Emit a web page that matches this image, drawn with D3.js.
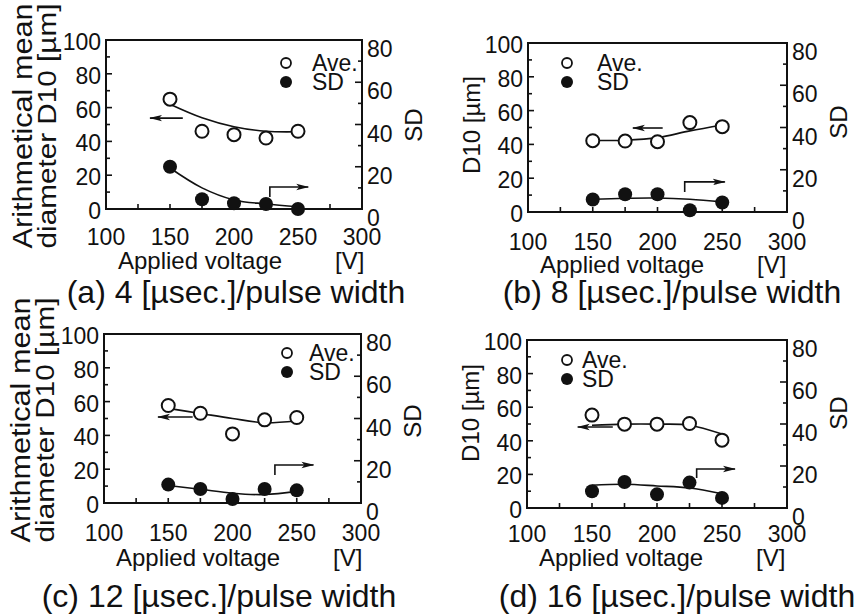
<!DOCTYPE html>
<html>
<head>
<meta charset="utf-8">
<script src="https://cdn.jsdelivr.net/npm/d3@7"></script>
<style>
  body { margin: 0; background: #fff; }
  svg text { font-family: "Liberation Sans", Arial, sans-serif; fill: #111; }
</style>
</head>
<body>
<div class="chart"></div>
<script>
// --- DATA --- //
const voltage = [150, 175, 200, 225, 250];
const xTicks = [100, 150, 200, 250, 300];
const leftTicks = [0, 20, 40, 60, 80, 100];
const rightTicks = [0, 20, 40, 60, 80];

// (a) 4 usec
const aveA = [65, 46, 44, 42, 46];
const sdA = [20, 4.6, 2.7, 2.4, 0];
const aveFitA = [62, 54, 48.7, 46, 45.7];
const sdFitA = [19.4, 10, 4.3, 2.4, 1.1];
// (b) 8 usec
const aveB = [42.2, 42, 41.6, 52.9, 50.5];
const sdB = [5.9, 8.4, 8.4, 0.8, 4.5];
const aveFitB = [42.3, 42.5, 44, 48, 51.5];
const sdFitB = [6, 6.5, 6.6, 6, 4.8];
// (c) 12 usec
const aveC = [57.7, 53.1, 40.9, 49.2, 50.6];
const sdC = [8.7, 6.6, 1.9, 6.6, 6.0];
const aveFitC = [56, 53, 50, 47.5, 48.5];
const sdFitC = [8.3, 6.5, 4.6, 4.0, 5.5];
// (d) 16 usec
const aveD = [55.3, 49.9, 49.9, 50.3, 40.4];
const sdD = [8.0, 12.4, 6.5, 12.1, 4.8];
const aveFitD = [49.3, 49.9, 49.9, 49.3, 44];
const sdFitD = [10.8, 11.3, 10.5, 9.5, 6.8];

const captions = ["(a) 4 [\u00b5sec.]/pulse width", "(b) 8 [\u00b5sec.]/pulse width",
                  "(c) 12 [\u00b5sec.]/pulse width", "(d) 16 [\u00b5sec.]/pulse width"];

// arrows in data units: [x1, x2, y] for left arrow, [x, y1, y2, x2] for bracket
const leftArrows = [[160, 134.4, 53.8], [204, 181, 49.7], [169, 142, 50.9], [166, 139, 48.2]];
const bracketArrows = [[228, 7.1, 13, 258], [221, 11.8, 17.8, 252], [233, 16.6, 22.5, 263], [230.5, 17.9, 23.2, 260]];

// --- LAYOUT --- //
const width = 859, height = 616;
const svg = d3.select('.chart').append('svg')
    .attr('width', width).attr('height', height)
    .attr('viewBox', [0, 0, width, height]);

svg.append('defs').append('marker')
    .attr('id', 'head')
    .attr('viewBox', '0 0 13 8')
    .attr('refX', 12).attr('refY', 4)
    .attr('markerWidth', 13).attr('markerHeight', 8)
    .attr('markerUnits', 'userSpaceOnUse')
    .attr('orient', 'auto')
    .append('path')
    .attr('d', 'M0,0.8 L13,4 L0,7.2 L3,4 Z')
    .attr('fill', '#111');

const panels = [
  {ave: aveA, sd: sdA, aveFit: aveFitA, sdFit: sdFitA, box: [106, 362, 40, 209], twoLine: true,
   legend: [286, 63], legDx: 26, tickDy: 36, xlabDy: 60, capX: 236, capY: 303, sdY: 125, titleY: 126},
  {ave: aveB, sd: sdB, aveFit: aveFitB, sdFit: sdFitB, box: [528, 787, 43, 212], twoLine: false,
   legend: [567, 63], legDx: 30, tickDy: 38, xlabDy: 61, capX: 672, capY: 303, sdY: 122, titleY: 125},
  {ave: aveC, sd: sdC, aveFit: aveFitC, sdFit: sdFitC, box: [104, 361, 334, 503], twoLine: true,
   legend: [287, 353], legDx: 22, tickDy: 38, xlabDy: 63, capX: 219, capY: 607, sdY: 421, titleY: 420},
  {ave: aveD, sd: sdD, aveFit: aveFitD, sdFit: sdFitD, box: [527, 787, 340, 508], twoLine: false,
   legend: [567, 360], legDx: 15, tickDy: 34, xlabDy: 58, capX: 677, capY: 607, sdY: 413, titleY: 413}
];

panels.forEach((p, i) => {
  const [x0, x1, y0, y1] = p.box;
  const x = d3.scaleLinear().domain([100, 300]).range([x0, x1]);
  const yL = d3.scaleLinear().domain([0, 100]).range([y1, y0]);
  const yR = d3.scaleLinear().domain([0, 80]).range([y1, y0]);
  const g = svg.append('g');

  // frame
  g.append('rect')
    .attr('x', x0).attr('y', y0).attr('width', x1 - x0).attr('height', y1 - y0)
    .attr('fill', 'none').attr('stroke', '#111').attr('stroke-width', 2);

  // inward ticks
  const ticks = g.append('g').attr('stroke', '#111').attr('stroke-width', 1.6);
  d3.range(125, 300, 25).forEach(v => {
    ticks.append('line').attr('x1', x(v)).attr('x2', x(v)).attr('y1', y1).attr('y2', y1 - 5);
  });
  d3.range(10, 100, 10).forEach(v => {
    ticks.append('line').attr('x1', x0).attr('x2', x0 + (v % 20 ? 4 : 6)).attr('y1', yL(v)).attr('y2', yL(v));
  });
  d3.range(10, 80, 10).forEach(v => {
    ticks.append('line').attr('x1', x1).attr('x2', x1 - (v % 20 ? 4 : 7)).attr('y1', yR(v)).attr('y2', yR(v));
  });

  // tick labels
  g.selectAll('.xt').data(xTicks).join('text')
    .attr('x', d => x(d)).attr('y', y1 + p.tickDy)
    .attr('text-anchor', 'middle').attr('font-size', 23).text(d => d);
  g.selectAll('.yl').data(leftTicks).join('text')
    .attr('x', x0 - 5).attr('y', d => yL(d) + 10)
    .attr('text-anchor', 'end').attr('font-size', 23).text(d => d);
  g.selectAll('.yr').data(rightTicks).join('text')
    .attr('x', x1 + 5).attr('y', d => yR(d) + 17)
    .attr('text-anchor', 'start').attr('font-size', 23).text(d => d);

  // axis titles
  g.append('text').attr('x', x0 + 12).attr('y', y1 + p.xlabDy)
    .attr('font-size', 24).text('Applied voltage');
  g.append('text').attr('x', x0 + 229).attr('y', y1 + p.xlabDy)
    .attr('font-size', 24).text('[V]');
  g.append('text')
    .attr('transform', `translate(${x1 + 60},${p.sdY}) rotate(-90)`)
    .attr('text-anchor', 'middle').attr('font-size', 24).text('SD');
  if (p.twoLine) {
    g.append('text')
      .attr('transform', `translate(${x0 - 74},${p.titleY}) rotate(-90)`)
      .attr('text-anchor', 'middle').attr('font-size', 27)
      .attr('textLength', 245).attr('lengthAdjust', 'spacingAndGlyphs')
      .text('Arithmetical mean');
    g.append('text')
      .attr('transform', `translate(${x0 - 50},${p.titleY}) rotate(-90)`)
      .attr('text-anchor', 'middle').attr('font-size', 26)
      .attr('textLength', 245).attr('lengthAdjust', 'spacingAndGlyphs')
      .text('diameter  D10  [\u00b5m]');
  } else {
    g.append('text')
      .attr('transform', `translate(${x0 - 48},${p.titleY}) rotate(-90)`)
      .attr('text-anchor', 'middle').attr('font-size', 24)
      .text('D10  [\u00b5m]');
  }

  // caption
  g.append('text').attr('x', p.capX).attr('y', p.capY)
    .attr('text-anchor', 'middle').attr('font-size', 32).text(captions[i]);

  // fitted curves
  const line = d3.line().curve(d3.curveCatmullRom.alpha(0.5));
  g.append('path')
    .attr('d', line(voltage.map((v, k) => [x(v), yL(p.aveFit[k])])))
    .attr('fill', 'none').attr('stroke', '#111').attr('stroke-width', 1.6);
  g.append('path')
    .attr('d', line(voltage.map((v, k) => [x(v), yR(p.sdFit[k])])))
    .attr('fill', 'none').attr('stroke', '#111').attr('stroke-width', 1.6);

  // points
  g.selectAll('.ave').data(p.ave).join('circle')
    .attr('cx', (d, k) => x(voltage[k])).attr('cy', d => yL(d)).attr('r', 6.5)
    .attr('fill', '#fff').attr('stroke', '#111').attr('stroke-width', 2);
  g.selectAll('.sd').data(p.sd).join('circle')
    .attr('cx', (d, k) => x(voltage[k])).attr('cy', d => yR(d)).attr('r', 7)
    .attr('fill', '#111');

  // arrows
  const la = leftArrows[i];
  g.append('line')
    .attr('x1', x(la[0])).attr('x2', x(la[1])).attr('y1', yL(la[2])).attr('y2', yL(la[2]))
    .attr('stroke', '#111').attr('stroke-width', 1.6).attr('marker-end', 'url(#head)');
  const ba = bracketArrows[i];
  g.append('path')
    .attr('d', `M${x(ba[0])},${yL(ba[1])}V${yL(ba[2])}H${x(ba[3])}`)
    .attr('fill', 'none').attr('stroke', '#111').attr('stroke-width', 1.6).attr('marker-end', 'url(#head)');

  // legend
  const [lx, ly] = p.legend;
  g.append('circle').attr('cx', lx).attr('cy', ly).attr('r', 5)
    .attr('fill', '#fff').attr('stroke', '#111').attr('stroke-width', 1.8);
  g.append('circle').attr('cx', lx).attr('cy', ly + 19).attr('r', 6).attr('fill', '#111');
  g.append('text').attr('x', lx + p.legDx).attr('y', ly + 8).attr('font-size', 23).text('Ave.');
  g.append('text').attr('x', lx + p.legDx).attr('y', ly + 27).attr('font-size', 23).text('SD');
});
</script>
</body>
</html>
